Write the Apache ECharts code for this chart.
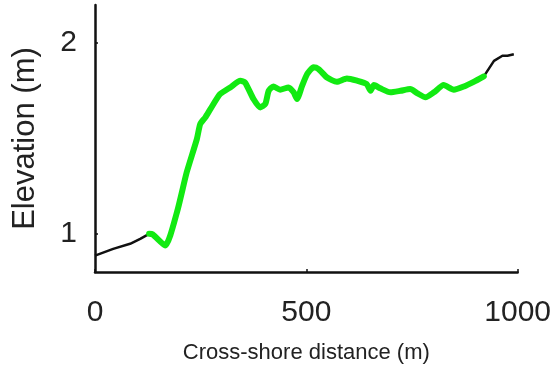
<!DOCTYPE html>
<html>
<head>
<meta charset="utf-8">
<script src="https://cdn.jsdelivr.net/npm/echarts@6/dist/echarts.min.js"></script>
<style>html,body{margin:0;padding:0;background:#fff}#c{width:554px;height:369px}</style>
</head>
<body>
<div id="c"></div>
<script>
// Black (unvegetated) segments
const blackLeft = [[0,0.886],[43,0.921],[83,0.948],[107,0.974],[128,1.0]];
const blackRight = [[920,1.826],[944,1.907],[964,1.934],[976,1.934],[991,1.942]];
// Green (vegetated) segment
const greenProfile = [[128,1.0],[136,0.998],[166,0.939],[194,1.114],[217,1.323],[241,1.497],[249,1.576],[261,1.611],[273,1.654],[296,1.733],[320,1.768],[344,1.803],[355,1.794],[375,1.707],[391,1.663],[403,1.681],[411,1.750],[422,1.773],[438,1.756],[458,1.768],[470,1.742],[478,1.707],[490,1.776],[502,1.838],[517,1.873],[529,1.864],[549,1.820],[572,1.797],[596,1.815],[620,1.803],[643,1.785],[652,1.750],[660,1.780],[675,1.763],[699,1.742],[723,1.750],[746,1.759],[762,1.738],[782,1.716],[802,1.742],[825,1.780],[849,1.756],[873,1.773],[896,1.797],[920,1.826]];
const xTicks = [0,500,1000];
const yTicks = [1,2];
const xTitle = 'Cross-shore distance (m)';
const yTitle = 'Elevation (m)';

const chart = echarts.init(document.getElementById('c'), null, {renderer:'canvas'});
const font = 'Liberation Sans, Arial, sans-serif';
chart.setOption({
  animation:false,
  backgroundColor:'#fff',
  grid:{left:95,right:36,top:5,bottom:97},
  xAxis:{
    type:'value',min:0,max:1000,interval:500,
    name:xTitle,nameLocation:'middle',nameGap:70,
    nameTextStyle:{fontFamily:font,fontSize:22,color:'#222'},
    axisLine:{show:true,lineStyle:{color:'#111',width:2.5}},
    axisTick:{show:true,inside:true,length:3,lineStyle:{color:'#111',width:1.5}},
    axisLabel:{fontFamily:font,fontSize:30,color:'#222',margin:26,
      customValues:xTicks,formatter:v=>String(v)},
    splitLine:{show:false}
  },
  yAxis:{
    type:'value',min:0.8,max:2.2,
    name:yTitle,nameLocation:'middle',nameGap:54,nameRotate:90,
    nameTextStyle:{fontFamily:font,fontSize:31,color:'#222'},
    axisLine:{show:true,lineStyle:{color:'#111',width:2.5}},
    axisTick:{show:true,inside:true,length:3,customValues:yTicks,lineStyle:{color:'#111',width:1.5}},
    axisLabel:{fontFamily:font,fontSize:30,color:'#222',margin:18,customValues:yTicks,formatter:v=>String(v)},
    splitLine:{show:false}
  },
  series:[
    {type:'line',data:blackLeft,symbol:'none',lineStyle:{color:'#111',width:2.5},z:2},
    {type:'line',data:blackRight,symbol:'none',lineStyle:{color:'#111',width:2.5},z:2},
    {type:'line',data:greenProfile,symbol:'none',smooth:0.2,lineStyle:{color:'#12ea12',width:6,join:'round',cap:'round'},z:3}
  ]
});
</script>
</body>
</html>
